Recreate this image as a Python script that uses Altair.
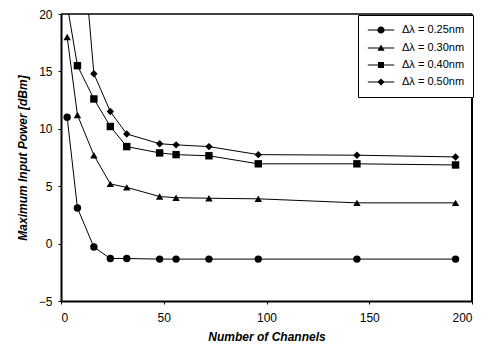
import altair as alt
import pandas as pd

series = ["Δλ = 0.25nm", "Δλ = 0.30nm", "Δλ = 0.40nm", "Δλ = 0.50nm"]

x_025 = [3, 8, 16, 24, 32, 48, 56, 72, 96, 144, 192]
y_025 = [11.0, 3.1, -0.3, -1.3, -1.3, -1.35, -1.35, -1.35, -1.35, -1.35, -1.35]

x_030 = [3, 8, 16, 24, 32, 48, 56, 72, 96, 144, 192]
y_030 = [18.0, 11.2, 7.7, 5.2, 4.9, 4.1, 4.0, 3.95, 3.9, 3.55, 3.55]

x_040 = [3, 8, 16, 24, 32, 48, 56, 72, 96, 144, 192]
y_040 = [20.8, 15.5, 12.6, 10.2, 8.45, 7.9, 7.75, 7.65, 6.95, 6.95, 6.85]

x_050 = [8, 16, 24, 32, 48, 56, 72, 96, 144, 192]
y_050 = [31.5, 14.8, 11.5, 9.55, 8.7, 8.6, 8.45, 7.75, 7.7, 7.55]

x_ticks = [0, 50, 100, 150, 200]
y_ticks = [-5, 0, 5, 10, 15, 20]
x_domain = [0, 200]
y_domain = [-5, 20]

rows = []
for name, xs, ys in zip(series, [x_025, x_030, x_040, x_050], [y_025, y_030, y_040, y_050]):
    for xv, yv in zip(xs, ys):
        rows.append({"series": name, "x": xv, "y": yv})
df = pd.DataFrame(rows)

FONT = "Liberation Sans"

xenc = alt.X("x:Q", scale=alt.Scale(domain=x_domain, nice=False),
             axis=alt.Axis(values=x_ticks, title="Number of Channels", grid=False,
                           domainColor="black", domainWidth=2, tickColor="black",
                           tickSize=3, tickWidth=1, labelPadding=8, labelFont=FONT,
                           labelFontSize=12, labelColor="black", titleFont=FONT,
                           titleFontSize=12, titleFontWeight="bold", titleFontStyle="italic",
                           titleColor="black", titleY=35, titleBaseline="middle"))
yenc = alt.Y("y:Q", scale=alt.Scale(domain=y_domain, nice=False),
             axis=alt.Axis(values=y_ticks, title="Maximum Input Power [dBm]", grid=False,
                           domainColor="black", domainWidth=2, tickColor="black",
                           tickSize=3, tickWidth=1, labelPadding=6, labelFont=FONT,
                           labelFontSize=12, labelColor="black", titleFont=FONT,
                           titleFontSize=12, titleFontWeight="bold", titleFontStyle="italic",
                           titleColor="black", titleX=-39, titleBaseline="middle"))

base = alt.Chart(df)

top_edge = alt.Chart(df).transform_aggregate(n="count()").mark_rule(
    color="black", strokeWidth=1.5).encode(
    x=alt.datum(x_domain[0]), x2=alt.datum(x_domain[1]), y=alt.datum(y_domain[1]))
right_edge = alt.Chart(df).transform_aggregate(n="count()").mark_rule(
    color="black", strokeWidth=2).encode(
    x=alt.datum(x_domain[1]), y=alt.datum(y_domain[0]), y2=alt.datum(y_domain[1]))

lines = base.mark_line(color="black", strokeWidth=1, clip=True).encode(
    x=xenc, y=yenc, detail="series:N")

point_shapes = ["circle", "triangle-up", "square", "M0,-1L1,0L0,1L-1,0Z"]
points = base.mark_point(filled=True, color="black", size=55, opacity=1, clip=True).encode(
    x=xenc, y=yenc,
    shape=alt.Shape("series:N", scale=alt.Scale(domain=series, range=point_shapes), legend=None))

LINE = "M-2.2,-0.09L2.2,-0.09L2.2,0.09L-2.2,0.09Z"
legend_shapes = [
    LINE + "M-0.6,0A0.6,0.6 0 1,1 0.6,0A0.6,0.6 0 1,1 -0.6,0Z",
    LINE + "M0,-0.6L0.6,0.45L-0.6,0.45Z",
    LINE + "M-0.5,-0.5L0.5,-0.5L0.5,0.5L-0.5,0.5Z",
    LINE + "M0,-0.6L0.6,0L0,0.6L-0.6,0Z",
]
legend_layer = base.transform_filter("datum.x > 1000").mark_point(
    filled=True, color="black", size=144, opacity=1).encode(
    x=xenc, y=yenc,
    shape=alt.Shape("series:N", scale=alt.Scale(domain=series, range=legend_shapes),
                    legend=alt.Legend(title=None, orient="none", legendX=297, legendY=1,
                                      strokeColor="black", fillColor="white", padding=8,
                                      symbolOffset=8, labelOffset=14, rowPadding=4,
                                      symbolSize=144, symbolFillColor="black",
                                      labelFont=FONT, labelFontSize=11, labelColor="black")))

chart = alt.layer(lines, points, top_edge, right_edge, legend_layer).resolve_scale(
    shape="independent").properties(
    width=411, height=287,
    padding={"left": 53, "top": 6, "right": 2, "bottom": 42},
    autosize=alt.AutoSizeParams(type="none"),
    background="white",
).configure_view(stroke=None)

chart.save("out.html", embed_options={"renderer": "svg", "actions": False})
